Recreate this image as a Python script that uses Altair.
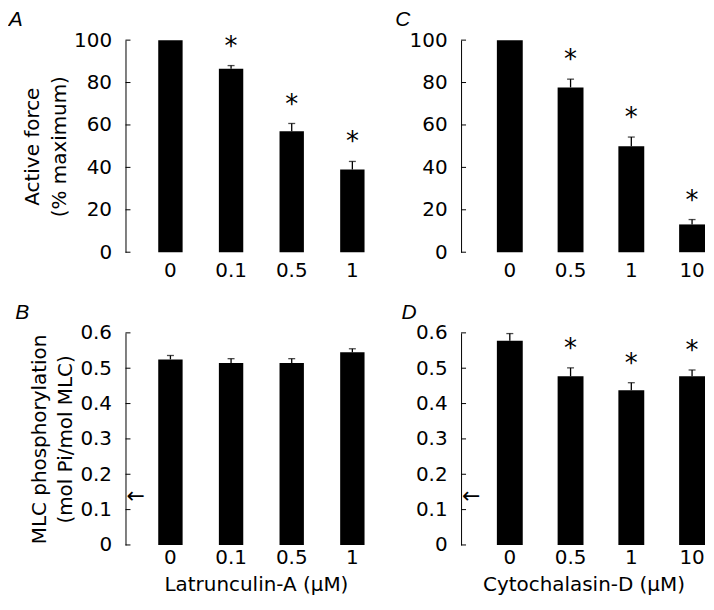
import altair as alt
import pandas as pd

# ---- data ----
lat_conc = ["0", "0.1", "0.5", "1"]
cyt_conc = ["0", "0.5", "1", "10"]

force_lat_mean = [100, 86.5, 57.0, 39.0]
force_lat_sem = [0, 1.5, 3.7, 3.8]
force_lat_sig = [False, True, True, True]

force_cyt_mean = [100, 77.7, 50.0, 13.1]
force_cyt_sem = [0, 3.9, 4.3, 2.3]
force_cyt_sig = [False, True, True, True]

mlc_lat_mean = [0.525, 0.515, 0.515, 0.545]
mlc_lat_sem = [0.011, 0.012, 0.012, 0.010]
mlc_lat_sig = [False, False, False, False]

mlc_cyt_mean = [0.578, 0.477, 0.438, 0.477]
mlc_cyt_sem = [0.020, 0.024, 0.021, 0.018]
mlc_cyt_sig = [False, True, True, True]

basal_mlc = [0.142]

force_ticks = [0, 20, 40, 60, 80, 100]
mlc_ticks = [0, 0.1, 0.2, 0.3, 0.4, 0.5, 0.6]

FONT = "DejaVu Sans"
FS = 20


def panel(letter, cats, mean, sem, sig, ticks, ymax, fmt, ytitle, xtitle, width,
          pad_inner, pad_outer, align, xlabpad, arrow=None):
    df = pd.DataFrame({"conc": cats, "mean": mean, "sem": sem, "sig": sig})
    df["upper"] = df["mean"] + df["sem"]
    errdf = df[df["sem"] > 0]
    stardf = df[df["sig"]]
    tickdf = pd.DataFrame({"v": ticks})

    xscale = alt.Scale(domain=cats, paddingInner=pad_inner, paddingOuter=pad_outer, align=align)
    xaxis = alt.Axis(domain=False, ticks=False, labelAngle=0, labelPadding=xlabpad,
                     labelFont=FONT, labelFontSize=FS, labelColor="black",
                     titleFont=FONT, titleFontSize=FS, titleFontWeight="normal",
                     titleColor="black", titlePadding=7)
    yscale = alt.Scale(domain=[0, ymax], nice=False, zero=True)
    yaxis = alt.Axis(values=ticks, format=fmt, ticks=False, grid=False, domainColor="black",
                     domainWidth=1, labelPadding=14, labelFont=FONT, labelFontSize=FS,
                     labelColor="black", titleFont=FONT, titleFontSize=FS,
                     titleFontWeight="normal", titleColor="black", titlePadding=4,
                     titleLineHeight=27)

    def X():
        return alt.X("conc:N", sort=cats, scale=xscale, axis=xaxis, title=xtitle)

    def Y(field):
        return alt.Y(field, scale=yscale, axis=yaxis, title=ytitle)

    bars = alt.Chart(df).mark_bar(color="black").encode(x=X(), y=Y("mean:Q"))
    err = alt.Chart(errdf).mark_rule(color="black", strokeWidth=1.3).encode(
        x=X(), y=Y("mean:Q"), y2="upper:Q")
    caps = alt.Chart(errdf).mark_tick(color="black", size=7, thickness=1.3,
                                       orient="horizontal").encode(x=X(), y=Y("upper:Q"))
    stars = alt.Chart(stardf).mark_text(text="*", font=FONT, fontSize=26, color="black",
                                        baseline="middle", dy=-19).encode(
        x=X(), y=Y("upper:Q"))
    inticks = alt.Chart(tickdf).mark_rule(color="black", strokeWidth=1).encode(
        y=Y("v:Q"), x=alt.value(0), x2=alt.value(5))
    layers = [bars, err, caps, stars, inticks]
    if arrow is not None:
        arr = alt.Chart(pd.DataFrame({"v": arrow})).mark_text(
            text="←", font=FONT, fontSize=22, color="black", align="left",
            baseline="middle", dy=1).encode(y=Y("v:Q"), x=alt.value(1))
        layers.append(arr)
    return alt.layer(*layers).properties(
        width=width, height=213,
        title=alt.TitleParams(letter, anchor="start", frame="bounds", dx=-14,
                              font="Liberation Sans", fontStyle="italic",
                              fontSize=21, fontWeight="normal", color="black",
                              offset=0),
    )


pA = panel("A", lat_conc, force_lat_mean, force_lat_sem, force_lat_sig, force_ticks, 100,
           "d", ["Active force", "(% maximum)"], None, 262, 0.598, 0.45, 0.6, 8)
pB = panel("B", lat_conc, mlc_lat_mean, mlc_lat_sem, mlc_lat_sig, mlc_ticks, 0.6, "~g",
           ["MLC phosphorylation", "(mol Pi/mol MLC)"], "Latrunculin-A (μM)", 262,
           0.598, 0.45, 0.6, 3, arrow=basal_mlc)
pC = panel("C", cyt_conc, force_cyt_mean, force_cyt_sem, force_cyt_sig, force_ticks, 100,
           "d", None, None, 246, 0.574, 0.303, 0.973, 8)
pD = panel("D", cyt_conc, mlc_cyt_mean, mlc_cyt_sem, mlc_cyt_sig, mlc_ticks, 0.6, "~g",
           None, "Cytochalasin-D (μM)", 246, 0.574, 0.303, 0.973, 3, arrow=basal_mlc)

chart = alt.hconcat(
    alt.vconcat(pA, pB, spacing=22),
    alt.vconcat(pC, pD, spacing=22),
    spacing=8,
).properties(
    padding={"left": 0, "top": 0, "right": 0, "bottom": 0},
    background="white",
).configure_view(stroke=None)

chart.save("out.html", embed_options={"renderer": "svg", "actions": False})
